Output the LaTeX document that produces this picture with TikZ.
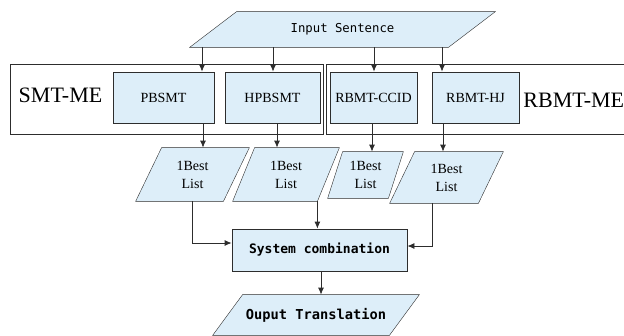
\documentclass[tikz,border=0pt]{standalone}
\usepackage{fontspec}
\setmainfont{Liberation Serif}
\newfontfamily\codefont{DejaVu Sans Mono}
\usetikzlibrary{arrows.meta,positioning,backgrounds}
\definecolor{boxfill}{RGB}{221,238,249}
\definecolor{linegray}{RGB}{45,45,45}

\begin{document}
\begin{tikzpicture}[x=1pt,y=-1pt,line width=0.8pt,
  box/.style={draw=linegray,fill=boxfill,inner sep=0pt,align=center,font=\fontsize{14}{18}\selectfont},
  grp/.style={draw=linegray,fill=white,inner sep=0pt},
  para/.style={box,draw=none,fill=none},
  arr/.style={draw=linegray,-{Latex[length=7pt,width=6pt]}}]
\clip (0,0) rectangle (624,335);
% system groups
\node[grp,minimum width=313pt,minimum height=70pt] (smt) at (166.5,99) {};
\node[grp,minimum width=310pt,minimum height=70pt] (rbmt) at (481,99) {};
\node[font=\fontsize{22}{24}\selectfont] (smtlab) at (60.5,95) {SMT-ME};
\node[anchor=west,inner sep=0pt,font=\fontsize{22}{24}\selectfont] (rbmtlab) at (523,100) {RBMT-ME};
% engines
\node[box,minimum width=101pt,minimum height=51pt] (pb) at (163.5,97.5) {PBSMT};
\node[box,minimum width=95pt,minimum height=51pt] (hp) at (272.5,97.5) {HPBSMT};
\node[box,minimum width=87pt,minimum height=51pt] (cc) at (373.5,97.5) {RBMT-CCID};
\node[box,minimum width=87pt,minimum height=51pt] (hj) at (475.5,97.5) {RBMT-HJ};
% input / output
\node[para,minimum width=305pt,minimum height=35pt,font=\codefont\fontsize{12.3}{14}\selectfont] (in) at (342.5,29.5) {Input Sentence};
\node[box,minimum width=175pt,minimum height=42pt,font=\codefont\bfseries\fontsize{13}{15}\selectfont] (sc) at (319.5,250) {System combination};
\node[para,minimum width=206pt,minimum height=40pt,font=\codefont\bfseries\fontsize{13.7}{15}\selectfont] (out) at (316,315) {Ouput Translation};
% n-best lists
\node[para,minimum width=113pt,minimum height=53pt] (l1) at (192.5,174.5) {1Best\\List};
\node[para,minimum width=106pt,minimum height=53pt] (l2) at (286,174.5) {1Best\\List};
\node[para,minimum width=75pt,minimum height=46pt] (l3) at (365.5,175) {1Best\\List};
\node[para,minimum width=113pt,minimum height=51pt] (l4) at (446.5,177.5) {1Best\\List};
% slanted outlines behind the texts
\begin{scope}[on background layer]
\foreach \n/\s in {in/47,out/30,l1/26,l2/22,l3/15,l4/25}
  {\draw[draw=linegray,fill=boxfill] ([xshift=\s pt]\n.north west) -- (\n.north east)
     -- ([xshift=-\s pt]\n.south east) -- (\n.south west) -- cycle;}
\end{scope}
% connectors
\foreach \n/\d in {pb/38.5,hp/0.5,cc/0.5,hj/-33.5}
  {\draw[arr] ([xshift=\d pt]\n.north |- in.south) -- ([xshift=\d pt]\n.north);}
\foreach \n/\l/\d in {pb/l1/39.5,hp/l2/4.5,cc/l3/-1.5,hj/l4/-32.5}
  {\draw[arr] ([xshift=\d pt]\n.south) -- ([xshift=\d pt]\n.south |- \l.north);}
\draw[arr] (l1.south) |- ([yshift=7pt]sc.west);
\draw[arr] ([xshift=-22pt]l2.south east) -- ([xshift=-22pt]l2.south east |- sc.north);
\draw[arr] ([xshift=-14.5pt]l4.south) |- ([yshift=4pt]sc.east);
\draw[arr] ([xshift=1.5pt]sc.south) -- ([xshift=1.5pt]sc.south |- out.north);
\end{tikzpicture}
\end{document}
